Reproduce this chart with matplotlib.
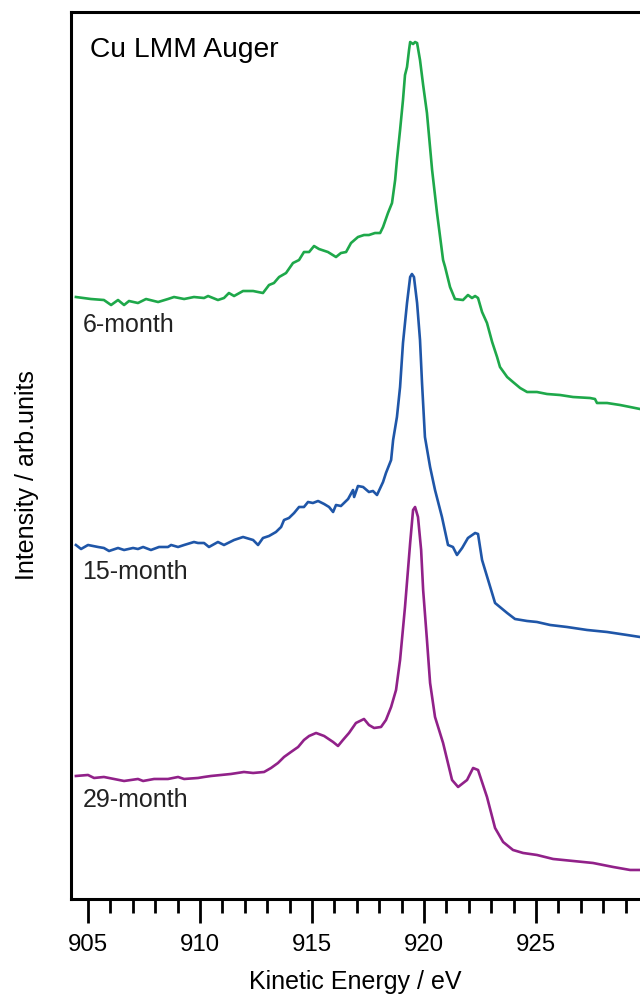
import numpy as np
import matplotlib.pyplot as plt

plt.rcParams['font.family'] = ['Liberation Sans', 'DejaVu Sans']

# Cu LMM Auger spectra, kinetic energy (eV) vs intensity (arb. units)
e_6 = [904.46, 905.13, 905.71, 906.03, 906.34, 906.61, 906.83, 907.23, 907.59, 908.13,
       908.57, 908.84, 909.29, 909.73, 910.18, 910.36, 910.80, 911.07, 911.29, 911.52,
       911.92, 912.37, 912.81, 913.08, 913.30, 913.53, 913.84, 914.15, 914.42, 914.64,
       914.87, 915.09, 915.31, 915.71, 916.07, 916.29, 916.52, 916.74, 917.05, 917.32,
       917.54, 917.81, 918.04, 918.17, 918.39, 918.57, 918.71, 918.79, 918.93, 919.06,
       919.15, 919.24, 919.33, 919.38, 919.51, 919.60, 919.69, 919.82, 919.96, 920.13,
       920.36, 920.58, 920.85, 920.94, 921.16, 921.38, 921.74, 921.96, 922.14, 922.28,
       922.41, 922.59, 922.81, 923.04, 923.26, 923.39, 923.71, 923.97, 924.29, 924.60,
       925.04, 925.49, 926.07, 926.65, 927.41, 927.63, 927.72, 928.17, 928.75, 929.20,
       929.64]
i_6 = [602, 600, 599, 594, 599, 594, 598, 596, 600, 597,
       600, 602, 600, 602, 601, 603, 599, 601, 606, 603,
       608, 608, 606, 614, 616, 622, 626, 636, 639, 647,
       647, 653, 650, 647, 642, 646, 647, 656, 662, 664,
       664, 666, 666, 672, 686, 696, 719, 739, 769, 799,
       824, 832, 849, 857, 855, 857, 856, 839, 814, 786,
       729, 686, 639, 632, 612, 600, 599, 604, 601, 603,
       601, 587, 576, 557, 542, 532, 522, 517, 511, 507,
       507, 505, 504, 502, 501, 500, 496, 496, 494, 492,
       490]

e_15 = [904.46, 904.69, 905.00, 905.45, 905.71, 905.94, 906.34, 906.61, 907.01, 907.23,
        907.46, 907.81, 908.17, 908.57, 908.71, 909.02, 909.29, 909.73, 909.91, 910.18,
        910.40, 910.80, 911.07, 911.52, 911.92, 912.37, 912.59, 912.81, 913.08, 913.39,
        913.62, 913.75, 913.97, 914.20, 914.42, 914.64, 914.82, 915.04, 915.27, 915.54,
        915.76, 915.94, 916.07, 916.29, 916.61, 916.83, 916.88, 917.05, 917.28, 917.54,
        917.72, 917.90, 918.17, 918.30, 918.53, 918.62, 918.79, 918.93, 919.06, 919.24,
        919.38, 919.46, 919.55, 919.69, 919.82, 919.91, 920.04, 920.27, 920.49, 920.80,
        921.07, 921.29, 921.47, 921.70, 921.96, 922.28, 922.41, 922.59, 922.86, 923.17,
        923.71, 924.06, 924.60, 925.04, 925.63, 926.38, 927.28, 928.17, 929.06, 929.64]
i_15 = [354, 350, 354, 352, 351, 348, 351, 349, 351, 350,
        352, 349, 352, 352, 354, 352, 354, 357, 356, 356,
        352, 357, 354, 359, 362, 359, 354, 361, 363, 367,
        372, 379, 381, 386, 392, 392, 397, 396, 398, 395,
        392, 387, 394, 393, 400, 409, 402, 413, 412, 407,
        408, 404, 417, 426, 439, 459, 482, 512, 556, 596,
        622, 625, 622, 596, 559, 516, 462, 432, 409, 382,
        354, 352, 344, 351, 361, 366, 365, 339, 319, 296,
        286, 280, 278, 277, 274, 272, 269, 267, 264, 262]

e_29 = [904.46, 905.00, 905.27, 905.71, 906.16, 906.61, 907.23, 907.46, 907.95, 908.57,
        909.02, 909.29, 909.91, 910.18, 910.49, 910.94, 911.38, 911.96, 912.37, 912.86,
        913.17, 913.48, 913.75, 914.06, 914.38, 914.64, 914.87, 915.18, 915.54, 915.94,
        916.16, 916.38, 916.65, 916.96, 917.32, 917.54, 917.77, 918.08, 918.30, 918.53,
        918.75, 918.93, 919.15, 919.38, 919.51, 919.60, 919.73, 919.87, 919.96, 920.13,
        920.27, 920.49, 920.85, 921.25, 921.52, 921.92, 922.19, 922.41, 922.81, 923.17,
        923.53, 923.97, 924.42, 925.04, 925.76, 926.65, 927.54, 928.44, 929.20, 929.64]
i_29 = [123, 124, 121, 122, 120, 118, 120, 118, 120, 120,
        122, 120, 121, 122, 123, 124, 125, 127, 126, 127,
        131, 136, 142, 147, 152, 159, 163, 166, 163, 157,
        153, 159, 166, 176, 180, 174, 171, 172, 179, 192,
        209, 239, 292, 356, 389, 392, 382, 349, 309, 259,
        216, 182, 156, 119, 112, 119, 131, 129, 102, 71,
        57, 49, 46, 44, 40, 38, 36, 32, 29, 29]

labels = ['6-month', '15-month', '29-month']
colors = ['#1ea84a', '#1f56a8', '#912189']

fig = plt.figure(figsize=(6.4, 9.94), dpi=100)
ax = fig.add_axes([0.1109, 0.0956, 0.8891, 0.8923])

ax.plot(e_6, i_6, color=colors[0], lw=1.9)
ax.plot(e_15, i_15, color=colors[1], lw=1.9)
ax.plot(e_29, i_29, color=colors[2], lw=1.9)

ax.text(904.75, 574, labels[0], fontsize=18, color='#222222', va='center')
ax.text(904.75, 327, labels[1], fontsize=18, color='#222222', va='center')
ax.text(904.75, 99, labels[2], fontsize=18, color='#222222', va='center')
ax.text(905.1, 849, 'Cu LMM Auger', fontsize=20.3, color='black', va='center')

ax.set_xlim(904.24, 929.64)
ax.set_ylim(0, 887)
ax.set_xticks(np.arange(905, 930, 5))
ax.set_xticks(np.arange(905, 930, 1), minor=True)
ax.set_yticks([])
ax.tick_params(axis='x', which='major', direction='out', length=17, width=2, labelsize=17.3, pad=8)
ax.tick_params(axis='x', which='minor', direction='out', length=10, width=2)
for s in ['left', 'bottom', 'top']:
    ax.spines[s].set_linewidth(2.2)
ax.spines['right'].set_visible(False)

ax.set_xlabel('Kinetic Energy / eV', fontsize=18, labelpad=10)
ax.set_ylabel('Intensity / arb.units', fontsize=18)
ax.yaxis.set_label_coords(-0.057, 0.478)

fig.savefig('out.png', dpi=100)
